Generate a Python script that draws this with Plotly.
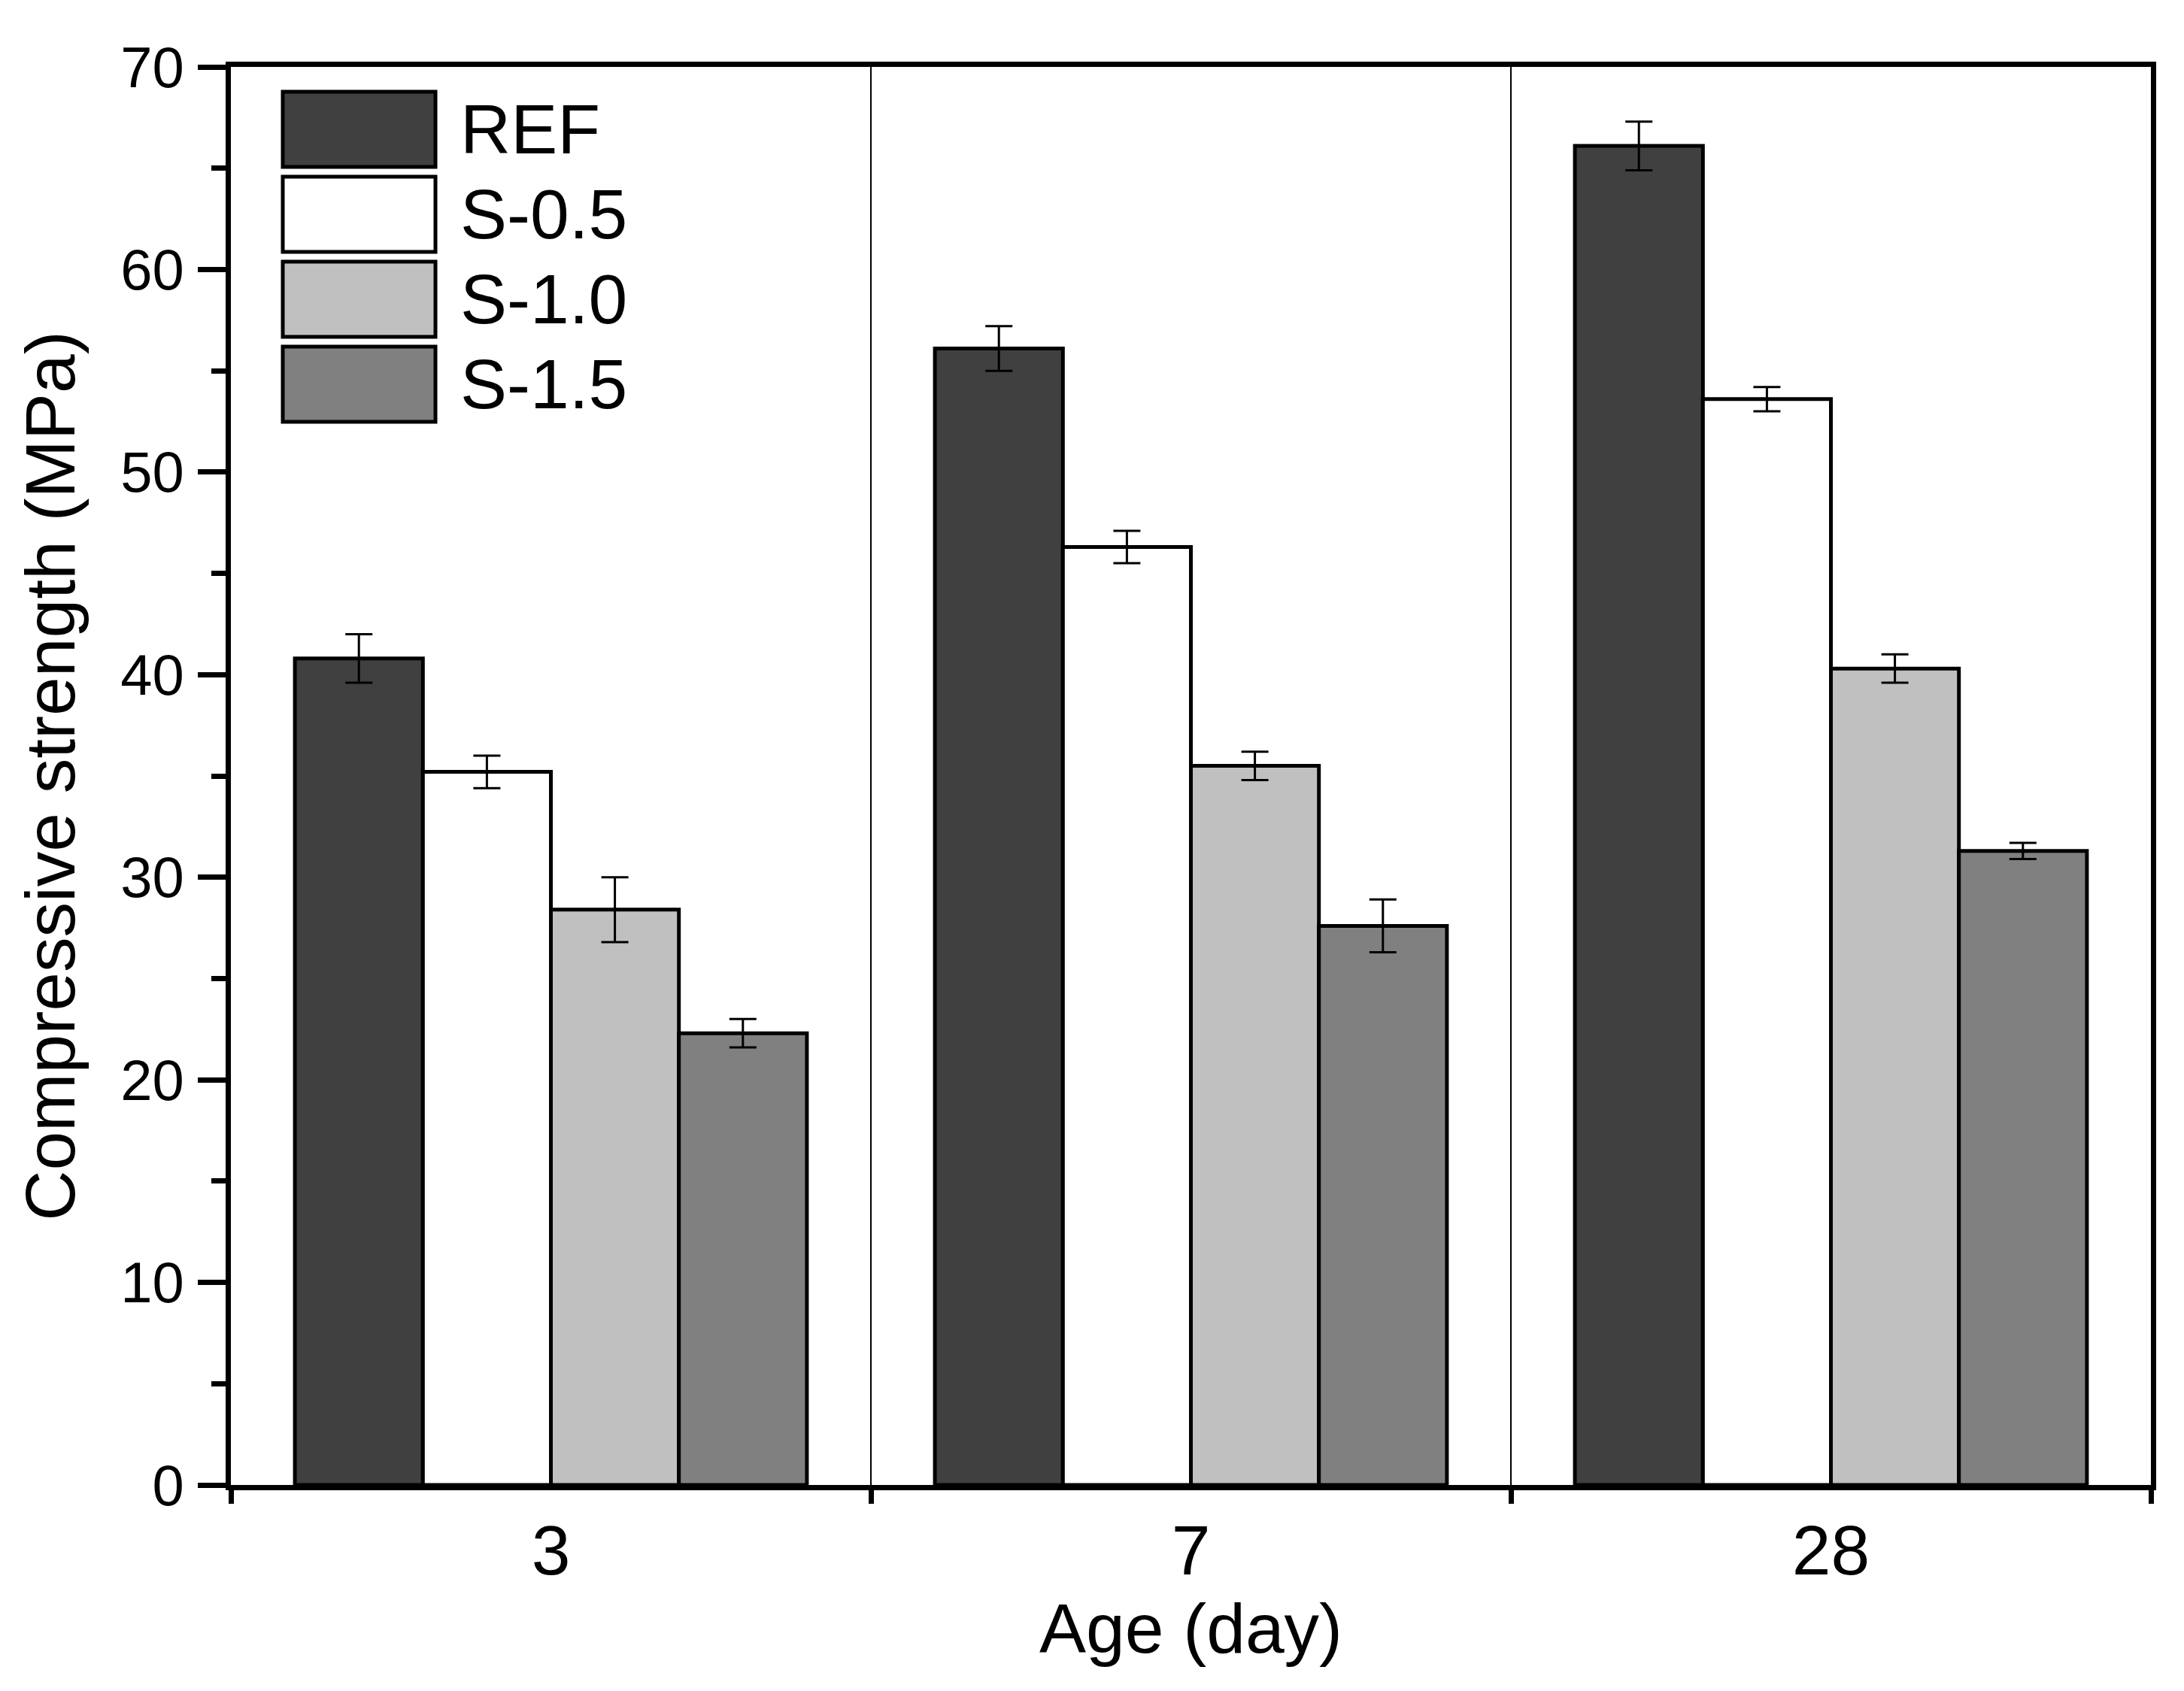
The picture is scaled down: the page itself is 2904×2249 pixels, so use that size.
import plotly.graph_objects as go

ages = ["3", "7", "28"]
series_names = ["REF", "S-0.5", "S-1.0", "S-1.5"]
ref_vals = [40.8, 56.1, 66.1]
ref_err = [1.2, 1.1, 1.2]
s05_vals = [35.2, 46.3, 53.6]
s05_err = [0.8, 0.8, 0.6]
s10_vals = [28.4, 35.5, 40.3]
s10_err = [1.6, 0.7, 0.7]
s15_vals = [22.3, 27.6, 31.3]
s15_err = [0.7, 1.3, 0.4]
colors = ["#404040", "#ffffff", "#c0c0c0", "#808080"]

values = [ref_vals, s05_vals, s10_vals, s15_vals]
errors = [ref_err, s05_err, s10_err, s15_err]

FONT = "Arial, Liberation Sans, sans-serif"

fig = go.Figure()
for name, v, e, c in zip(series_names, values, errors, colors):
    fig.add_trace(go.Bar(
        x=ages, y=v, name=name,
        marker=dict(color=c, line=dict(color="black", width=5)),
        error_y=dict(type="data", array=e, visible=True, color="black",
                     thickness=3, width=18),
        showlegend=False,
    ))

# page body has an 8px margin; compensate so the plot area lands where it should
OFF = 8
W, H = 2904 - 2 * OFF, 2249 - 2 * OFF
L, R, T, B = 307 - OFF, 44 - OFF, 89 - OFF, 274 - OFF
pw, ph = W - L - R, H - T - B
plot_left = 307
plot_bottom = 1975

# custom legend (large swatches like the original)
bx0, bx1 = 376, 579
by_top, bh, bstep = 122, 100, 113
shapes = []
annotations = []
for i, (name, c) in enumerate(zip(series_names, colors)):
    top = by_top + i * bstep
    bot = top + bh
    shapes.append(dict(type="rect", xref="paper", yref="paper",
                       x0=(bx0 - plot_left) / pw, x1=(bx1 - plot_left) / pw,
                       y0=(plot_bottom - bot) / ph, y1=(plot_bottom - top) / ph,
                       fillcolor=c, line=dict(color="black", width=5)))
    annotations.append(dict(xref="paper", yref="paper",
                            x=(610 - plot_left) / pw,
                            y=(plot_bottom - (top + bot) / 2) / ph,
                            text=name, showarrow=False, xanchor="left",
                            yanchor="middle",
                            font=dict(family=FONT, size=93, color="black")))

fig.update_layout(
    width=W, height=H,
    margin=dict(l=L, r=R, t=T, b=B, pad=0),
    paper_bgcolor="white", plot_bgcolor="white",
    barmode="group", bargap=0.2, bargroupgap=0,
    font=dict(family=FONT, color="black"),
    shapes=shapes, annotations=annotations,
)

fig.update_xaxes(
    type="category", tickson="boundaries",
    showline=True, linecolor="black", linewidth=7, mirror=True,
    ticks="outside", ticklen=18, tickwidth=7, tickcolor="black",
    showgrid=True, gridcolor="black", gridwidth=2,
    tickfont=dict(family=FONT, size=93, color="black"),
    title=dict(text="Age (day)", font=dict(family=FONT, size=93, color="black"),
               standoff=8),
)

fig.update_yaxes(
    range=[0, 70], dtick=10, tick0=0,
    showline=True, linecolor="black", linewidth=7, mirror=True,
    ticks="outside", ticklen=37, tickwidth=7, tickcolor="black",
    ticklabelstandoff=3,
    minor=dict(dtick=5, ticks="outside", ticklen=19, tickwidth=7, tickcolor="black", showgrid=False),
    showgrid=False, zeroline=False,
    tickfont=dict(family=FONT, size=76, color="black"),
    title=dict(text="Compressive strength (MPa)",
               font=dict(family=FONT, size=93, color="black"), standoff=32),
)

fig.write_html("out.html")
